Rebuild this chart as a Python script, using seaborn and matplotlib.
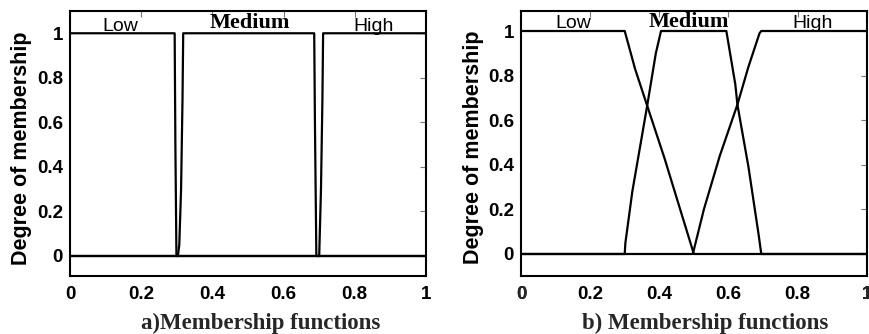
import matplotlib
matplotlib.use("Agg")
import matplotlib.pyplot as plt
import pandas as pd
import seaborn as sns

# ---- membership functions -------------------------------------------------
set_names = ["Low", "Medium", "High"]

# a) crisp (rectangular) sets
crisp_low_x = [0.0, 0.294, 0.296, 0.299, 1.0]
crisp_low_y = [1.0, 1.0, 0.5, 0.0, 0.0]
crisp_med_x = [0.0, 0.303, 0.307, 0.312, 0.316, 0.318, 0.686, 0.688, 0.692, 1.0]
crisp_med_y = [0.0, 0.0, 0.05, 0.3, 0.7, 1.0, 1.0, 0.6, 0.0, 0.0]
crisp_high_x = [0.0, 0.700, 0.705, 0.709, 0.711, 1.0]
crisp_high_y = [0.0, 0.0, 0.3, 0.7, 1.0, 1.0]

# b) fuzzy (trapezoidal) sets
fuzzy_low_x = [0.0, 0.30, 0.33, 0.365, 0.415, 0.50, 1.0]
fuzzy_low_y = [1.0, 1.0, 0.83, 0.665, 0.43, 0.0, 0.0]
fuzzy_med_x = [0.0, 0.30, 0.302, 0.322, 0.365, 0.39, 0.405,
               0.594, 0.620, 0.626, 0.658, 0.688, 0.695, 1.0]
fuzzy_med_y = [0.0, 0.0, 0.05, 0.28, 0.665, 0.90, 1.0,
               1.0, 0.76, 0.67, 0.39, 0.08, 0.0, 0.0]
fuzzy_high_x = [0.0, 0.497, 0.529, 0.575, 0.626, 0.658, 0.690, 0.695, 1.0]
fuzzy_high_y = [0.0, 0.0, 0.20, 0.44, 0.67, 0.84, 0.99, 1.0, 1.0]

# set-name positions (x) above the top of each panel
name_x_a = [0.14, 0.506, 0.852]
name_x_b = [0.151, 0.486, 0.843]

tick_vals = [0, 0.2, 0.4, 0.6, 0.8, 1]
tick_text = ["0", "0.2", "0.4", "0.6", "0.8", "1"]

panel_titles = ["a)Membership functions", "b) Membership functions"]
y_title = "Degree of membership"


def to_frame(xs, ys):
    parts = []
    for name, x, y in zip(set_names, xs, ys):
        parts.append(pd.DataFrame({"u": x, "mu": y, "set": name,
                                   "order": range(len(x))}))
    return pd.concat(parts, ignore_index=True)


crisp = to_frame([crisp_low_x, crisp_med_x, crisp_high_x],
                 [crisp_low_y, crisp_med_y, crisp_high_y])
fuzzy = to_frame([fuzzy_low_x, fuzzy_med_x, fuzzy_high_x],
                 [fuzzy_low_y, fuzzy_med_y, fuzzy_high_y])

# ---- styling --------------------------------------------------------------
sns.set_theme(style="white")
plt.rcParams["font.family"] = ["Liberation Sans", "DejaVu Sans"]

SANS = "Liberation Sans"
SERIF = "Liberation Serif"
TICK_FS = 13.5
PAD_X = 7.2
PAD_Y = 5.0

W, H = 869, 334
fig = plt.figure(figsize=(W / 100, H / 100), dpi=100)


def px_axes(left, right, top, bottom):
    return fig.add_axes([left / W, (H - bottom) / H,
                         (right - left) / W, (bottom - top) / H])


ax_a = px_axes(70, 426, 11, 276)
ax_b = px_axes(521, 866.7, 11, 276)

black = {n: "black" for n in set_names}
for ax, df in ((ax_a, crisp), (ax_b, fuzzy)):
    sns.lineplot(data=df, x="u", y="mu", hue="set", units="set",
                 estimator=None, sort=False, palette=black,
                 linewidth=1.6, legend=False, ax=ax)

ax_a.set_xlim(0, 1)
ax_a.set_ylim(-0.0898, 1.100)
ax_b.set_xlim(0.016, 0.990)
ax_b.set_ylim(-0.0987, 1.0897)

for ax in (ax_a, ax_b):
    ax.set_xticks(tick_vals, tick_text)
    ax.set_yticks(tick_vals, tick_text)
    ax.tick_params(direction="in", length=4, width=0.8, color="#777777",
                   top=True, right=True, labelcolor="black")
    ax.tick_params(axis="x", pad=PAD_X)
    ax.tick_params(axis="y", pad=PAD_Y)
    for lab in ax.get_xticklabels() + ax.get_yticklabels():
        lab.set_fontfamily(SANS)
        lab.set_fontweight("bold")
        lab.set_fontsize(TICK_FS)
    for sp in ax.spines.values():
        sp.set_color("black")
        sp.set_linewidth(1.5)
        sp.set_visible(True)
    ax.set_xlabel("")
    ax.set_ylabel(y_title, fontfamily=SANS, fontweight="bold",
                  fontsize=15.5, color="black")

ax_a.yaxis.set_label_coords(-0.107, 0.482)
ax_b.yaxis.set_label_coords(-0.106, 0.485)

# end labels of the b) axis that sit just outside its view range
for val, txt in ((0, "0"), (1, "1")):
    ax_b.annotate(txt, xy=(val, 0), xycoords=("data", "axes fraction"),
                  xytext=(0, -PAD_X), textcoords="offset points",
                  ha="center", va="top", annotation_clip=False,
                  fontfamily=SANS, fontweight="bold", fontsize=TICK_FS)

# set names
name_style = {
    "Low": dict(fontfamily=SANS, fontweight="normal", fontsize=14),
    "Medium": dict(fontfamily=SERIF, fontweight="bold", fontsize=16),
    "High": dict(fontfamily=SANS, fontweight="normal", fontsize=14),
}
name_y_a = [1.012, 1.022, 1.012]
name_y_b = [1.015, 1.019, 1.015]
for ax, xs, ys in ((ax_a, name_x_a, name_y_a), (ax_b, name_x_b, name_y_b)):
    for name, x, y in zip(set_names, xs, ys):
        ax.text(x, y, name, ha="center", va="baseline", color="black",
                **name_style[name])

# panel captions
fig.text(261 / W, (H - 329) / H, panel_titles[0], ha="center", va="baseline",
         fontfamily=SERIF, fontweight="bold", fontsize=16.5)
fig.text(705 / W, (H - 329) / H, panel_titles[1], ha="center", va="baseline",
         fontfamily=SERIF, fontweight="bold", fontsize=16.5)

fig.savefig("out.png", dpi=100, facecolor="white")
